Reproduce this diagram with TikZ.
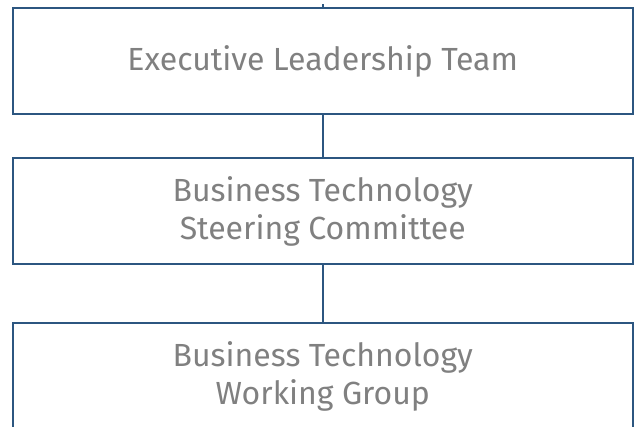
\documentclass[tikz,border=0pt]{standalone}
\usepackage{fontspec}
\setmainfont{Fira Sans}
\usepackage{tikz}
\usetikzlibrary{positioning}

\definecolor{boxline}{RGB}{44,86,128}
\definecolor{boxtext}{RGB}{128,128,128}

\begin{document}
\begin{tikzpicture}[x=1pt, y=1pt,
    unit/.style = {draw=boxline, line width=1.6pt, minimum width=620pt,
                   minimum height=106pt, inner sep=0pt, align=center,
                   text=boxtext, font=\fontsize{32}{38}\selectfont},
    link/.style = {draw=boxline, line width=1.6pt}]
    \useasboundingbox (0,0) rectangle (639,-426);
    \clip (0,0) rectangle (639,-426);

    \node (exec)  [unit] at (322.75,-61.25) {Executive Leadership Team};
    \node (steer) [unit] at (322.75,-211)   {Business Technology\\Steering Committee};
    \node (work)  [unit] at (322.75,-376)   {Business Technology\\Working Group};

    \coordinate (stub) at (322.75,-4);

\path [link]
    (stub)  edge (exec)
    (exec)  edge (steer)
    (steer) edge (work);

\end{tikzpicture}
\end{document}
